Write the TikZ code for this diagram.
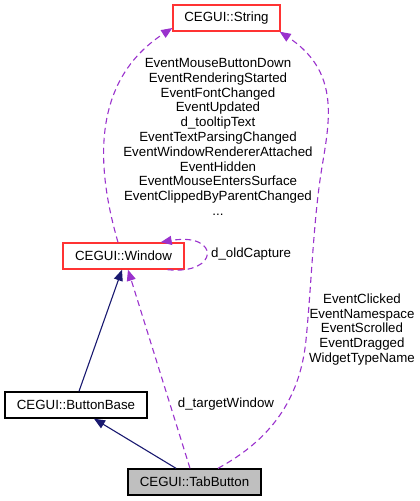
\documentclass[tikz,border=0pt]{standalone}
\usepackage{fontspec}
\setmainfont{Liberation Sans}
\usetikzlibrary{arrows.meta}

\definecolor{usecol}{HTML}{9A32CD}
\definecolor{inhcol}{HTML}{191970}
\definecolor{boxred}{HTML}{FF3333}
\definecolor{fillgray}{HTML}{BFBFBF}

\begin{document}
\begin{tikzpicture}[x=1pt,y=-1pt,
  every node/.style={font=\fontsize{13.3}{14.8}\selectfont, text=black},
  cls/.style={draw=black, line width=1.4pt, minimum height=26pt, inner sep=0pt},
  refcls/.style={cls, draw=boxred},
  inh/.style={draw=inhcol, line width=1.1pt, -{Triangle[length=11pt,width=9pt]}},
  use/.style={draw=usecol, line width=1.1pt, dash pattern=on 6pt off 4pt, -{Triangle[length=11pt,width=9pt,fill=usecol]}},
  lbl/.style={align=center, inner sep=0pt}]
\useasboundingbox (0,0) rectangle (420,501);
% classes
\node[refcls, minimum width=107pt] (str) at (226.5,18) {CEGUI::String};
\node[refcls, minimum width=121pt] (win) at (123.5,256) {CEGUI::Window};
\node[cls, minimum width=142pt] (bb) at (76,405) {CEGUI::ButtonBase};
\node[cls, fill=fillgray, minimum width=133pt] (tab) at (194.5,482) {CEGUI::TabButton};
% inheritance
\draw[inh] ([xshift=3pt]bb.north) -- ([xshift=-1.5pt]win.south);
\draw[inh] ([xshift=-18.5pt]tab.north) -- ([xshift=18pt]bb.south);
% usage
\draw[use] ([xshift=-5.5pt]win.north) .. controls (100,180) and (85,85) .. ([yshift=-10pt]str.west);
\draw[use] ([xshift=-17pt]win.south east) .. controls (220,275) and (220,232) .. ([xshift=-24pt]win.north east);
\draw[use] ([xshift=-4.5pt]tab.north) -- ([xshift=4.5pt]win.south);
\draw[use] ([xshift=23.5pt]tab.north) .. controls (270,440) and (300,400) .. (306,340)
  .. controls (311,290) and (313,230) .. (320,180)
  .. controls (327,130) and (345,75) .. ([xshift=-1pt]str.south east);
% labels
\node[lbl] (lstr) at (218,137) {EventMouseButtonDown\\EventRenderingStarted\\EventFontChanged\\EventUpdated\\d\_tooltipText\\EventTextParsingChanged\\EventWindowRendererAttached\\EventHidden\\EventMouseEntersSurface\\EventClippedByParentChanged\\...};
\node[lbl, anchor=west] (lcap) at (211,254) {d\_oldCapture};
\node[lbl] (ltab) at (362,329.5) {EventClicked\\EventNamespace\\EventScrolled\\EventDragged\\WidgetTypeName};
\node[lbl] (ltgt) at (226,404) {d\_targetWindow};
\end{tikzpicture}
\end{document}
